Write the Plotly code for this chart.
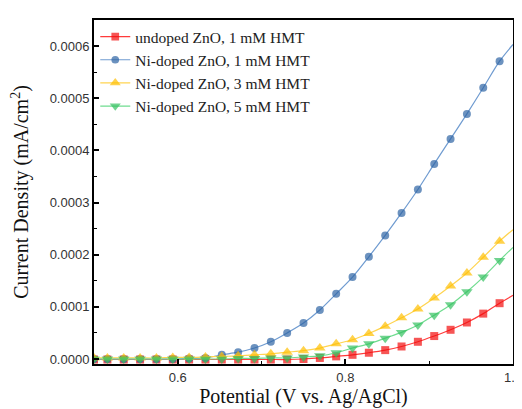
import plotly.graph_objects as go

# Potential (V) — sampled marker positions, plus axis ends 0.5 and 1.0
potential = [0.500, 0.516, 0.5355, 0.555, 0.5745, 0.594, 0.6135, 0.633, 0.6525, 0.672,
             0.6915, 0.711, 0.7305, 0.750, 0.7695, 0.789, 0.8085, 0.828, 0.8475,
             0.867, 0.8865, 0.906, 0.9255, 0.945, 0.9645, 0.984, 1.000]

# Current density in units of 1e-4 mA/cm^2
undoped_1mM = [-0.01, -0.01, -0.01, -0.01, -0.01, -0.01, -0.01, -0.01, -0.01, -0.01,
               -0.01, -0.01, -0.01, 0.00, 0.02, 0.05, 0.08, 0.12, 0.17, 0.24,
               0.33, 0.44, 0.56, 0.70, 0.87, 1.07, 1.22]
ni_1mM = [0.00, 0.00, 0.00, 0.00, 0.00, 0.00, 0.01, 0.02, 0.08, 0.13,
          0.21, 0.33, 0.50, 0.69, 0.94, 1.25, 1.57, 1.96, 2.37, 2.80,
          3.25, 3.74, 4.22, 4.70, 5.20, 5.71, 6.03]
ni_3mM = [0.02, 0.02, 0.02, 0.02, 0.02, 0.03, 0.03, 0.04, 0.05, 0.06,
          0.08, 0.10, 0.13, 0.16, 0.21, 0.29, 0.37, 0.49, 0.63, 0.79,
          0.96, 1.17, 1.40, 1.65, 1.95, 2.26, 2.48]
ni_5mM = [0.00, 0.00, 0.00, 0.00, 0.00, 0.00, 0.00, 0.00, 0.00, 0.01,
          0.01, 0.02, 0.02, 0.04, 0.06, 0.12, 0.21, 0.29, 0.40, 0.51,
          0.65, 0.84, 1.04, 1.29, 1.57, 1.89, 2.14]

names = ["undoped ZnO, 1 mM HMT", "Ni-doped ZnO, 1 mM HMT",
         "Ni-doped ZnO, 3 mM HMT", "Ni-doped ZnO, 5 mM HMT"]
series = [undoped_1mM, ni_1mM, ni_3mM, ni_5mM]
marker_colors = ["#f20d0d", "#2e64a4", "#ffbf00", "#33c15f"]
line_colors = ["#ff3b3b", "#6f9bd0", "#ffd450", "#6fdc8f"]
symbols = ["square", "circle", "triangle-up", "triangle-down"]
sizes = [8, 8, 10, 10]

fig = go.Figure()
n = len(potential)
for name, vals, mc, lc, sym, sz in zip(names, series, marker_colors, line_colors, symbols, sizes):
    msize = [sz] * (n - 1) + [0]
    fig.add_trace(go.Scatter(
        x=potential, y=[v * 1e-4 for v in vals], name=name,
        mode="lines+markers",
        line=dict(color=lc, width=1.2, shape="spline", smoothing=0.8),
        marker=dict(symbol=sym, color=mc, size=msize, line=dict(width=0)),
    ))

axis_common = dict(
    showline=True, linecolor="black", linewidth=2, mirror=True,
    ticks="inside", ticklen=5, tickwidth=1.5, tickcolor="black",
    showgrid=False, zeroline=False,
    tickfont=dict(family="Liberation Sans, Arial", size=13, color="#333333"),
    ticklabeloverflow="allow",
)

fig.update_xaxes(
    range=[0.5, 1.0], dtick=0.2, tick0=0.0, tickformat=".1f",
    minor=dict(ticks="inside", ticklen=3, dtick=0.1, tick0=0.0, tickcolor="black", tickwidth=1.2),
    title=dict(text="Potential (V vs. Ag/AgCl)",
               font=dict(family="Liberation Serif, Times New Roman", size=20, color="#111111"),
               standoff=3),
    **axis_common,
)
fig.update_yaxes(
    range=[-0.0000096, 0.00065], dtick=0.0001, tick0=0, tickformat=".4f",
    minor=dict(ticks="inside", ticklen=3, dtick=0.00005, tick0=0, tickcolor="black", tickwidth=1.2),
    title=dict(text="Current Density (mA/cm<sup>2</sup>)",
               font=dict(family="Liberation Serif, Times New Roman", size=20, color="#111111"),
               standoff=16),
    **axis_common,
)

fig.update_layout(
    width=522, height=409,
    margin=dict(l=86, r=8, t=12, b=53),
    paper_bgcolor="white", plot_bgcolor="white",
    showlegend=True,
    legend=dict(x=0.003, y=1.0, xanchor="left", yanchor="top",
                bgcolor="rgba(0,0,0,0)", borderwidth=0,
                font=dict(family="Liberation Serif, Times New Roman", size=15.5, color="#222222"),
                itemwidth=30, tracegroupgap=0),
)

fig.write_html("out.html")
